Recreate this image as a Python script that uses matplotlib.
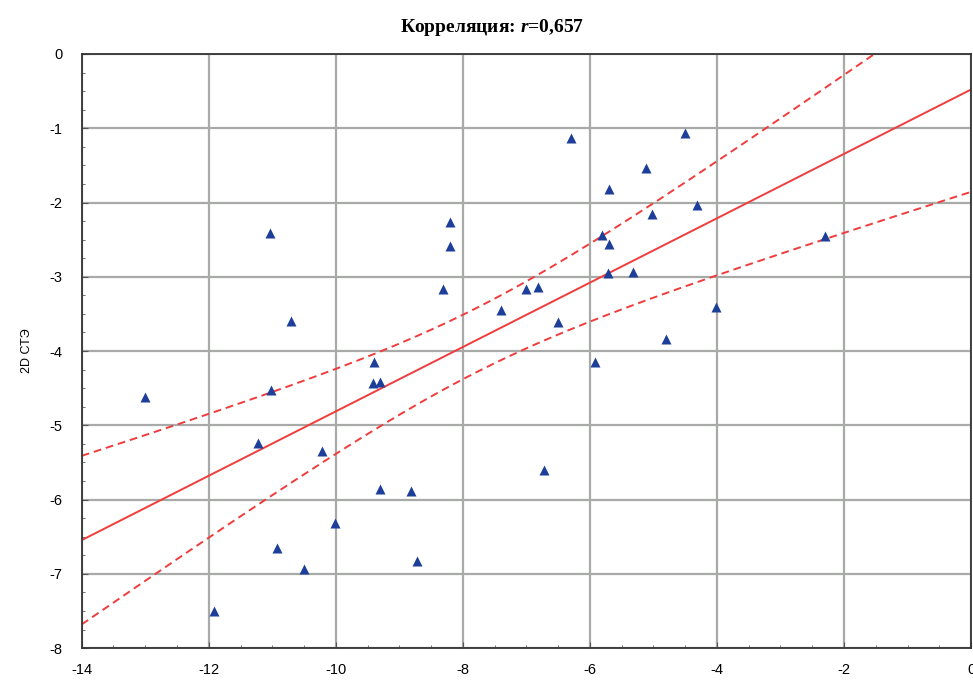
import numpy as np
import matplotlib
matplotlib.use("Agg")
import matplotlib.pyplot as plt
from matplotlib.ticker import MultipleLocator

# значения точек
x_vals = [-13.01, -11.92, -11.23, -11.03, -11.02, -10.92, -10.70, -10.50,
          -10.22, -10.01, -9.40, -9.42, -9.30, -9.31, -8.81, -8.72,
          -8.31, -8.21, -8.21, -7.40, -7.01, -6.81, -6.73, -6.51,
          -6.30, -5.92, -5.81, -5.70, -5.70, -5.71, -5.32, -5.11,
          -5.02, -4.81, -4.51, -4.31, -4.01, -2.30]
y_vals = [-4.62, -7.50, -5.24, -2.41, -4.52, -6.65, -3.59, -6.93,
          -5.35, -6.32, -4.15, -4.43, -4.41, -5.86, -5.89, -6.82,
          -3.16, -2.26, -2.59, -3.45, -3.16, -3.14, -5.60, -3.61,
          -1.13, -4.15, -2.44, -2.56, -1.82, -2.95, -2.93, -1.54,
          -2.15, -3.84, -1.07, -2.03, -3.41, -2.45]

title_text = "Корреляция: $\\mathit{r}$=0,657"
y_label = "2D СТЭ"
x_ticks = [-14, -12, -10, -8, -6, -4, -2, 0]
y_ticks = [0, -1, -2, -3, -4, -5, -6, -7, -8]
t_crit = 2.028  # t(0.975, n-2)

plt.rcParams['mathtext.fontset'] = 'custom'
plt.rcParams['mathtext.it'] = 'Liberation Serif:italic:bold'
plt.rcParams['mathtext.rm'] = 'Liberation Serif:bold'
plt.rcParams['axes.unicode_minus'] = False

x = np.array(x_vals)
y = np.array(y_vals)
n = len(x)

# линейная регрессия и доверительный интервал
b, a = np.polyfit(x, y, 1)
resid = y - (a + b * x)
s = np.sqrt(np.sum(resid ** 2) / (n - 2))
sxx = np.sum((x - x.mean()) ** 2)
xx = np.linspace(-14, 0, 200)
yy = a + b * xx
half = t_crit * s * np.sqrt(1.0 / n + (xx - x.mean()) ** 2 / sxx)

fig = plt.figure(figsize=(9.73, 6.83), dpi=100)
ax = fig.add_axes([0.084, 0.051, 0.914, 0.870])

ax.grid(True, color='#a8aaa8', linewidth=1.6, zorder=0)
ax.plot(xx, yy, color='#f03c3c', linewidth=1.4, zorder=2)
ax.plot(xx, yy + half, color='#f03c3c', linewidth=1.4, linestyle=(0, (4, 2.5)), zorder=2)
ax.plot(xx, yy - half, color='#f03c3c', linewidth=1.4, linestyle=(0, (4, 2.5)), zorder=2)
ax.scatter(x, y, marker='^', s=52, color='#1d3f9a', zorder=3, linewidths=0)

ax.set_xlim(-14, 0)
ax.set_ylim(-8, 0)
ax.set_xticks(x_ticks)
ax.set_yticks(y_ticks)
ax.xaxis.set_minor_locator(MultipleLocator(0.5))
ax.yaxis.set_minor_locator(MultipleLocator(0.25))
ax.tick_params(which='both', direction='in', color='#555555')
ax.tick_params(which='major', length=4, labelsize=10.5, pad=11)
ax.tick_params(axis='y', which='major', pad=14)
ax.tick_params(which='minor', length=2)
for lbl in ax.get_xticklabels() + ax.get_yticklabels():
    lbl.set_family('Liberation Sans')

for sp in ax.spines.values():
    sp.set_color('#333333')
    sp.set_linewidth(1.3)

ax.set_ylabel(y_label, fontsize=9, family='Liberation Sans', labelpad=12)
fig.text(0.505, 0.96, title_text, ha='center', va='center', fontsize=14,
         family='Liberation Serif', fontweight='bold')

fig.savefig("out.png", dpi=100)
